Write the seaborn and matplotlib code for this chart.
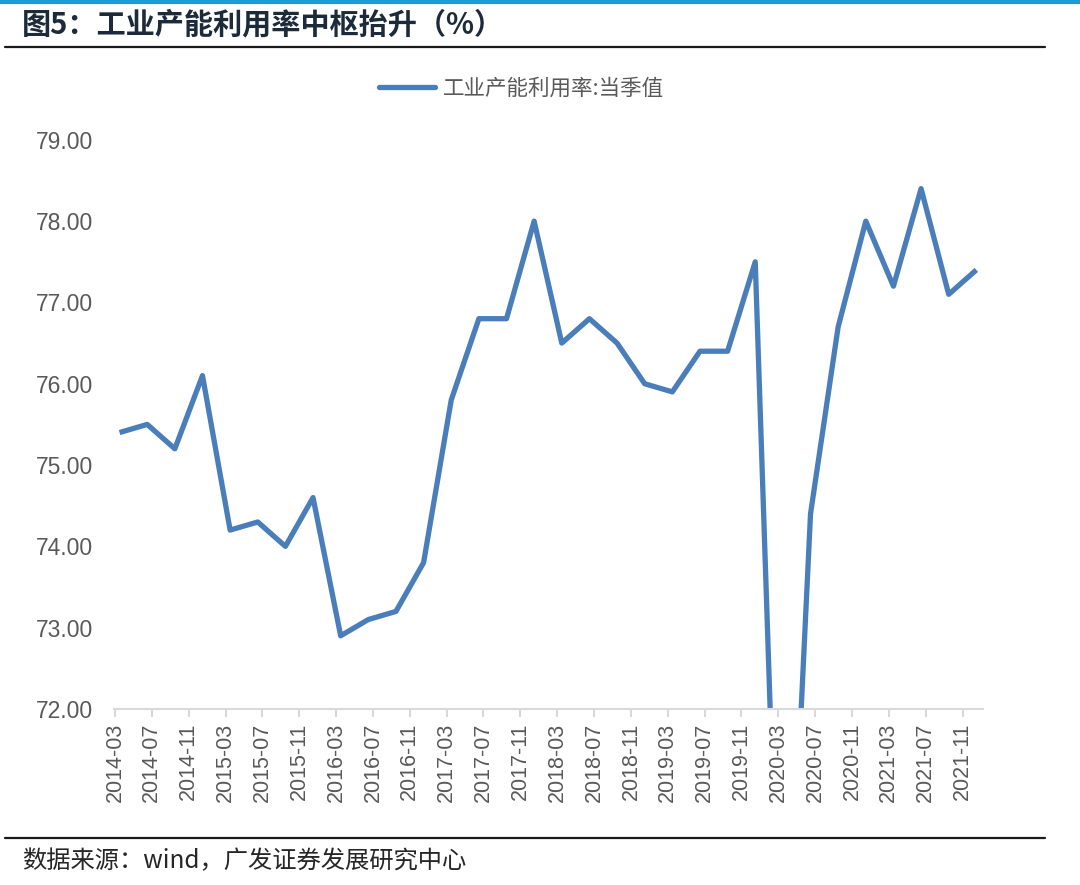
import numpy as np
import pandas as pd
import matplotlib
matplotlib.use("Agg")
import matplotlib.pyplot as plt
from matplotlib.lines import Line2D
import seaborn as sns

# Data (quarterly)
quarters = ["2014-03", "2014-06", "2014-09", "2014-12",
            "2015-03", "2015-06", "2015-09", "2015-12",
            "2016-03", "2016-06", "2016-09", "2016-12",
            "2017-03", "2017-06", "2017-09", "2017-12",
            "2018-03", "2018-06", "2018-09", "2018-12",
            "2019-03", "2019-06", "2019-09", "2019-12",
            "2020-03", "2020-06", "2020-09", "2020-12",
            "2021-03", "2021-06", "2021-09", "2021-12"]
utilization = [75.4, 75.5, 75.2, 76.1,
               74.2, 74.3, 74.0, 74.6,
               72.9, 73.1, 73.2, 73.8,
               75.8, 76.8, 76.8, 78.0,
               76.5, 76.8, 76.5, 76.0,
               75.9, 76.4, 76.4, 77.5,
               67.3, 74.4, 76.7, 78.0,
               77.2, 78.4, 77.1, 77.4]
tick_labels = ["2014-03", "2014-07", "2014-11", "2015-03", "2015-07", "2015-11",
               "2016-03", "2016-07", "2016-11", "2017-03", "2017-07", "2017-11",
               "2018-03", "2018-07", "2018-11", "2019-03", "2019-07", "2019-11",
               "2020-03", "2020-07", "2020-11", "2021-03", "2021-07", "2021-11"]
series_name = "工业产能利用率:当季值"

def month_index(s):
    y, m = s.split("-")
    return (int(y) - 2014) * 12 + int(m) - 3

# quarterly values are dated at month end -> sit half a month after the tick
df = pd.DataFrame({"month": [month_index(q) + 0.5 for q in quarters], "value": utilization})
tick_pos = [month_index(t) for t in tick_labels]

sns.set_theme(style="white")
plt.rcParams['font.family'] = ['Liberation Sans', 'Noto Sans CJK SC', 'DejaVu Sans']

LINE_COLOR = "#4a7ebb"
TEXT_GRAY = "#595959"

fig = plt.figure(figsize=(10.8, 8.85), dpi=100)
ax = fig.add_axes([0.1056, 0.1989, 0.8044, 0.6431])

sns.lineplot(data=df, x="month", y="value", ax=ax, color=LINE_COLOR,
             linewidth=3.8, solid_capstyle="butt")

ax.set_ylim(72, 79)
ax.set_yticks(np.arange(72, 79.01, 1))
ax.set_yticklabels([f"{v:.2f}" for v in np.arange(72, 79.01, 1)])
ax.set_xlim(-0.1, 94.2)
ax.set_xticks(tick_pos)
ax.set_xticklabels(tick_labels, rotation=90)
ax.set_xlabel("")
ax.set_ylabel("")

for side in ["top", "right", "left"]:
    ax.spines[side].set_visible(False)
ax.spines["bottom"].set_color("#d9d9d9")
ax.spines["bottom"].set_linewidth(1.5)
ax.tick_params(axis="x", which="major", direction="out", length=6, width=1.5,
               color="#d9d9d9", labelsize=15.5, labelcolor=TEXT_GRAY, pad=4, bottom=True)
ax.tick_params(axis="y", length=0, labelsize=16.5, labelcolor=TEXT_GRAY, pad=15)
ax.grid(False)

# Legend at top center
handle = Line2D([0], [0], color=LINE_COLOR, linewidth=3.8)
fig.legend([handle], [series_name], loc="center", bbox_to_anchor=(0.483, 0.900),
           frameon=False, handlelength=2.6, handletextpad=0.4,
           prop={"family": ["Noto Sans CJK SC"], "size": 15.5}, labelcolor=TEXT_GRAY)

# Header and footer decoration
fig.add_artist(Line2D([0, 1], [0.998, 0.998], color="#1a9ad6", linewidth=3,
                      transform=fig.transFigure))
fig.add_artist(Line2D([0.005, 0.968], [0.947, 0.947], color="#1a1a1a", linewidth=1.6,
                      transform=fig.transFigure))
fig.add_artist(Line2D([0.005, 0.968], [0.053, 0.053], color="#1a1a1a", linewidth=1.6,
                      transform=fig.transFigure))

fig.text(0.020, 0.972, "图5：工业产能利用率中枢抬升（%）", fontsize=21, fontweight="bold",
         color="#1c2a3a", va="center", ha="left",
         family=["Noto Sans CJK SC", "DejaVu Sans"])
fig.text(0.020, 0.027, "数据来源：wind，广发证券发展研究中心", fontsize=17.5,
         color="#262626", va="center", ha="left",
         family=["Noto Sans CJK SC", "DejaVu Sans"])

fig.savefig("out.png", dpi=100)
